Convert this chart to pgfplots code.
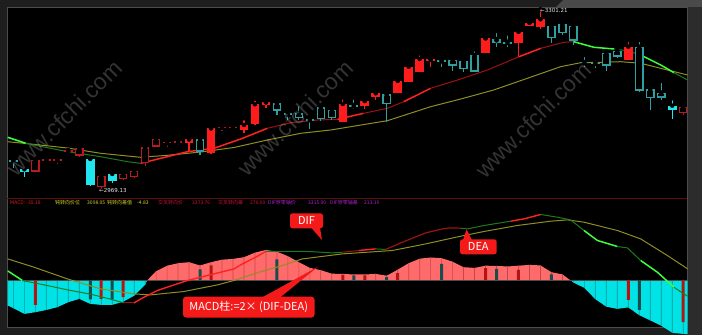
\documentclass[border=0pt]{standalone}
\usepackage{pgfplots}
\pgfplotsset{compat=1.18}
\usepackage{pgfplotstable}
\usepackage{fontspec}
\setmainfont{Liberation Sans}
\newfontfamily\cjk{Noto Sans CJK SC}
\newfontfamily\dvs{DejaVu Sans}

\definecolor{bg}{HTML}{1E1E1E}
\definecolor{bgR}{HTML}{2C2C2C}
\definecolor{bgT}{HTML}{4A4A4A}
\definecolor{frame}{HTML}{4C4C4C}
\definecolor{sep}{HTML}{5E0C0C}
\definecolor{cCyan}{HTML}{00E3E6}
\definecolor{cCyanD}{HTML}{0E9494}
\definecolor{cPink}{HTML}{FF6A6A}
\definecolor{cPinkD}{HTML}{C44848}
\definecolor{cRF}{HTML}{FF1C1C}
\definecolor{cRH}{HTML}{B81A1F}
\definecolor{cCF}{HTML}{1FE5EE}
\definecolor{cTH}{HTML}{2FA0A2}
\definecolor{cBox}{HTML}{F51A1A}
\definecolor{cOlive}{HTML}{8E8E24}
\definecolor{cGB}{HTML}{3CFF3C}
\definecolor{cGD}{HTML}{1E7A1E}
\definecolor{cRB}{HTML}{FF2222}
\definecolor{cRD}{HTML}{9C1212}
\definecolor{cDR}{HTML}{B41414}
\definecolor{cDT}{HTML}{1C4B4E}
\definecolor{tY}{HTML}{D6D62A}
\definecolor{tR}{HTML}{D81C1C}
\definecolor{tP}{HTML}{D0103C}
\definecolor{tM}{HTML}{B020D0}

% candles: i, wick top, wick bottom, body top, body bottom (screen rows; a smaller row is a higher price)
\pgfplotstableread{
i wt wb bt bb
16 139.3 151.7 139.3 142.7
18 128.3 154 128.3 153.3
21 118.3 133.3 125 130
22 99 125 104.3 124
23 102.3 108.3 102.3 105
30 97.3 121.7 104 121.7
32 101 109.3 101 106
33 89.3 100 93.3 97.3
35 80.7 93.3 80.7 93.3
36 62.7 81.7 66.7 81.7
37 53.3 71.7 59 71.7
38 59.3 66.7 59.3 61
43 38.3 53.3 38.3 53.3
46 31.7 56.7 31.7 42.7
47 22.7 26 22.7 26
48 9.3 29.3 19.3 27.3
56 40 60 46.7 60
}\RF
\pgfplotstableread{
i wt wb bt bb
2 160 171.7 160 171.7
3 157.7 163.3 159.3 161
4 157.3 164 159.3 161.3
5 145 153.3 150 152.3
6 146.7 156.7 148.3 155.7
8 175 189.3 176 187.3
10 170 180 174 179
11 168.3 178.3 170.7 177.3
12 146.7 166 147.3 163.3
13 137.3 146.7 139 146.7
14 140 146.7 142 143.3
15 138.7 145 141.3 142.7
19 122.7 130.7 126.7 128.3
20 124 130 126.7 128.3
61 103.3 115 106.7 113.3
}\RH
\pgfplotstableread{
i wt wb bt bb
1 166.7 176.7 169.3 172.3
7 158.3 186 159 185
9 171.7 183.3 174 180.7
60 98.3 119 105.7 110
}\CF
\pgfplotstableread{
i wt wb bt bb
0 157 168 160 162
17 136.7 155 139.3 151.7
24 103.3 115 103.3 110.7
25 112.3 120 113.3 115
26 104.3 120 113.3 118.3
27 118.3 129.3 119 120.7
28 106.7 120.7 107.3 119
29 108.3 120 110 118.3
31 97.7 109.3 105 106.7
34 94.3 121.7 94.3 104.3
39 60 66.7 60 62.3
40 56.7 71 60 65.7
41 58.3 71.7 61 69
42 49.3 71.7 55 71.7
44 31 46.7 39 42.7
45 33.3 46.7 41.7 44.3
49 23.3 43.3 25.7 38.3
50 21.7 35 24.3 33.3
51 23.3 45 26 40.7
52 55 66.7 62 63.3
53 58.3 68.3 62.7 64.3
54 51.7 70.7 52.7 65.7
55 50 58.3 50.7 56.7
57 40 91.7 46.7 90.7
58 85 110 89.3 98.3
59 81 100 92.7 97.7
}\TH

% MACD histogram
\pgfplotstableread{
i v
-0.52 0
-0.52 -25.3
0 -28
1 -33.7
2 -32
3 -29.8
4 -27
5 -22
6 -18.7
7 -23.7
8 -24.7
9 -24.7
10 -21.5
11 -15.5
12 -4.5
12.2 0
}\HcL
\pgfplotstableread{
i v
12.2 0
13 9
14 14.5
15 17
16 18
17 14.7
18 18
19 20.5
20 21.3
21 23
22 27.5
23 30.3
24 28.5
25 24
26 18
27 12.3
28 10
29 6.5
30 6.3
31 5.7
32 5.7
33 6.3
34 4.5
35 10.5
36 17
37 21.5
38 22.7
39 22
40 18.5
41 13
42 12.3
43 14.5
44 14.3
45 13.7
46 14.5
47 15.3
48 14.8
49 8
50 5.8
50.72 0
}\HP
\pgfplotstableread{
i v
50.72 0
51 -2.3
52 -7.7
53 -19
54 -26.5
55 -28.7
56 -27.2
57 -35
58 -40.2
59 -45.5
60 -52.5
61 -53.7
61.41 -54
61.41 0
}\HcR
\pgfplotstableread{
i v
2 -24.7
8 -18.7
10 -17
18 14.7
30 5.3
32 4.7
35 7
43 12
46 10.3
56 -19.7
61 -42
}\BDR
\pgfplotstableread{
i v
7 -19.3
9 -19.3
17 10.7
24 20.7
31 4.7
34 3
39 16.3
44 11.3
49 5.7
57 -29.7
}\BDT

\pgfplotsset{
  panel/.style={scale only axis, width=680pt, xmin=-0.52, xmax=61.41, hide axis, clip=true},
  eb/.style 2 args={only marks, mark=none, forget plot,
    error bars/.cd, y dir=minus, y explicit, error mark=none,
    error bar style={line width=#1, color=#2, line cap=butt}},
}
\newcommand\wicks[2]{\addplot[eb={1.2pt}{#2}] table[x=i, y=wt, y error expr={\thisrow{wb}-\thisrow{wt}}] {#1};}
\newcommand\bodies[2]{\addplot[eb={8.6pt}{#2}] table[x=i, y=bt, y error expr={\thisrow{bb}-\thisrow{bt}}] {#1};}
\newcommand\hollow[1]{\addplot[eb={5.8pt}{black}] table[x=i, y expr={\thisrow{bt}+1.4}, y error expr={max(\thisrow{bb}-\thisrow{bt}-2.8,0)}] {#1};}
\newcommand\tf{\cjk\fontsize{5}{6}\selectfont}

\begin{document}
\begin{tikzpicture}[x=1pt,y=1pt]
\useasboundingbox (0,0) rectangle (702,335);
\fill[bg] (0,0) rectangle (702,335);
\fill[bgR] (687,0) rectangle (702,335);
\fill[bgT] (556,328) -- (563,335) -- (702,335) -- (702,328) -- cycle;
\fill[black] (7,8) rectangle (687,328);
\draw[frame, line width=0.8pt] (7,8) rectangle (687,328);

% ---------- price panel (values are screen rows, shown negated so that up is up) ----------
\begin{axis}[panel, at={(7,137)}, anchor=south west, height=191pt,
  ymin=-198, ymax=-7, y filter/.expression={-y}]
% slow MA
\addplot[cOlive, line width=1pt] coordinates {(-0.52,141.7) (1.12,143.5) (4.92,148) (7.95,153.3) (11.59,157.3) (14.03,155.3) (17.06,152) (20.09,147.5) (23.13,140) (26.17,133.3) (28.90,130) (30.72,126.7) (34.06,120.7) (38.00,106.7) (40.74,99) (43.74,90) (46.81,78.3) (49.84,66.7) (51.66,62.7) (53.48,62.3) (55.31,61.7) (57.13,63.3) (59.56,70) (61.41,75)};
% fast MA
\addplot[cGB, line width=1.6pt] coordinates {(-0.52,137.3) (1.12,143.3)};
\addplot[cGD, line width=1pt] coordinates {(1.12,143.3) (4.95,151.7) (7.95,156.7) (10.41,161.7) (11.59,163.3)};
\addplot[cRB, line width=1.5pt] coordinates {(11.59,163.3) (13.42,158.3) (15.85,151.7) (18.27,148.3) (20.70,139) (23.13,128.3)};
\addplot[cRD, line width=1pt] coordinates {(23.13,128.3) (25.26,122.7) (27.69,120) (29.51,119.3)};
\addplot[cRB, line width=1.5pt] coordinates {(29.51,119.3) (31.90,113.3)};
\addplot[cRD, line width=1pt] coordinates {(31.90,113.3) (34.06,108.3) (35.55,101.7)};
\addplot[cRB, line width=1.5pt] coordinates {(35.55,101.7) (38.00,88.3)};
\addplot[cRD, line width=1pt] coordinates {(38.00,88.3) (40.74,79) (43.17,70) (46.05,56.7)};
\addplot[cRB, line width=1.5pt] coordinates {(46.05,56.7) (48.03,48.3)};
\addplot[cRD, line width=1pt] coordinates {(48.03,48.3) (50.15,42.3) (51.03,41.7)};
\addplot[cGB, line width=1.5pt] coordinates {(51.03,41.7) (52.88,47.3) (54.70,49)};
\addplot[cGD, line width=1pt] coordinates {(54.70,49) (55.92,50.7) (57.13,55)};
\addplot[cGB, line width=1.5pt] coordinates {(57.13,55) (58.96,65) (60.16,72.7)};
\addplot[cGD, line width=1pt] coordinates {(60.16,72.7) (61.41,80)};
% candles
\wicks{\RH}{cRH} \bodies{\RH}{cRH} \hollow{\RH}
\wicks{\TH}{cTH} \bodies{\TH}{cTH} \hollow{\TH}
\wicks{\RF}{cRF} \bodies{\RF}{cRF}
\wicks{\CF}{cCF} \bodies{\CF}{cCF}
\end{axis}

% ---------- MACD panel ----------
\begin{axis}[panel, at={(7,8)}, anchor=south west, height=129pt,
  ymin=-54, ymax=75]
\addplot[fill=cCyan, draw=none, forget plot] table[x=i, y=v] {\HcL} \closedcycle;
\addplot[fill=cPink, draw=none, forget plot] table[x=i, y=v] {\HP} \closedcycle;
\addplot[fill=cCyan, draw=none, forget plot] table[x=i, y=v] {\HcR} \closedcycle;
\addplot[ybar, bar width=0.7pt, bar shift=0pt, fill=cCyanD, draw=none] table[x=i, y=v] {\HcL};
\addplot[ybar, bar width=0.7pt, bar shift=0pt, fill=cPinkD, draw=none] table[x=i, y=v] {\HP};
\addplot[ybar, bar width=0.7pt, bar shift=0pt, fill=cCyanD, draw=none] table[x=i, y=v] {\HcR};
\addplot[gray!60!black, line width=0.6pt] coordinates {(-0.52,0) (61.41,0)};
\addplot[ybar, bar width=3pt, bar shift=0pt, fill=cDR, draw=none] table[x=i, y=v] {\BDR};
\addplot[ybar, bar width=3pt, bar shift=0pt, fill=cDT, draw=none] table[x=i, y=v] {\BDT};
% DEA
\addplot[cOlive, line width=1pt] coordinates {(-0.52,21.3) (1.88,13) (4.92,1.3) (7.95,-8.7) (10.98,-13.7) (12.5,-14.7) (15.54,-11.3) (18.58,-4.7) (20.09,-0.3) (22.37,8) (24.5,14.7) (26.32,21.3) (29.96,26.3) (34.52,29.7) (37.55,36.3) (40.74,44) (42.86,48.7) (45.9,54.7) (48.93,59) (50.46,60.3) (51.97,58) (55.01,49.7) (57.13,41.3) (59.56,24.7) (61.41,11.3)};
% DIF
\addplot[cGB, line width=1.5pt] coordinates {(-0.52,9.3) (0.82,-0.3)};
\addplot[cGD, line width=1pt] coordinates {(0.82,-0.3) (2.94,-5) (4.95,-9.7) (7.04,-14) (8.86,-19) (10.07,-22.7)};
\addplot[cRD, line width=1pt] coordinates {(10.07,-22.7) (10.98,-22.7)};
\addplot[cRB, line width=1.4pt] coordinates {(10.98,-22.7) (11.89,-17) (13.11,-10.3) (14.63,-4.7) (15.85,-0.3) (18.27,6.3) (20.09,11.3) (20.86,16.3) (22.07,23) (22.98,28.7)};
\addplot[cGD, line width=1pt] coordinates {(22.98,28.7) (24.19,28.7) (26.92,28.7) (29.05,27.3) (29.96,28)};
\addplot[cRD, line width=1pt] coordinates {(29.96,28) (31.48,29.7)};
\addplot[cRB, line width=1.4pt] coordinates {(31.48,29.7) (32.99,31.3)};
\addplot[cGD, line width=1pt] coordinates {(32.99,31.3) (33.9,30.7)};
\addplot[cRD, line width=1.2pt] coordinates {(33.9,30.7) (35.43,38) (37.55,47.3) (39.07,51.3) (39.83,52.3) (40.74,52)};
\addplot[cGD, line width=1pt] coordinates {(40.74,52) (41.35,51.3) (42.86,54.7) (45.29,59)};
\addplot[cRB, line width=1.4pt] coordinates {(45.29,59) (46.5,61.3) (48.03,65.7)};
\addplot[cGD, line width=1pt] coordinates {(48.03,65.7) (49.54,63) (50.75,60.3) (51.97,49.7)};
\addplot[cGB, line width=1.5pt] coordinates {(51.97,49.7) (53.19,39.7) (55.01,33.7)};
\addplot[cGD, line width=1pt] coordinates {(55.01,33.7) (55.92,32.3) (57.13,19.7)};
\addplot[cGB, line width=1.5pt] coordinates {(57.13,19.7) (58.65,8) (60.16,-7)};
\addplot[cGD, line width=1pt] coordinates {(60.16,-7) (61.05,-13.7) (61.41,-16)};
\end{axis}

% panel separator
\draw[sep, line width=0.8pt] (7,137) -- (687,137);

% extreme labels
\node[anchor=west, inner sep=0, text=white!80!gray, font=\dvs\fontsize{5.5}{6}\selectfont] at (99,144.3) {←2969.13};
\node[anchor=west, inner sep=0, text=white!80!gray, font=\dvs\fontsize{5.5}{6}\selectfont] at (540,324) {←3301.21};

% indicator line
\node[anchor=west, inner sep=0, text=tR] at (10,132) {\tf MACD: -35.18};
\node[anchor=west, inner sep=0, text=tY] at (55,132) {\tf 钝转向价位};
\node[anchor=west, inner sep=0, text=tY] at (87,132) {\tf 3098.05};
\node[anchor=west, inner sep=0, text=tY] at (107,132) {\tf 钝转向差值};
\node[anchor=west, inner sep=0, text=tY] at (137,132) {\tf -4.83};
\node[anchor=west, inner sep=0, text=tP] at (158,132) {\tf 交叉转向价};
\node[anchor=west, inner sep=0, text=tP] at (192,132) {\tf 3373.76};
\node[anchor=west, inner sep=0, text=tP] at (218,132) {\tf 交叉转向差};
\node[anchor=west, inner sep=0, text=tP] at (250,132) {\tf 276.90};
\node[anchor=west, inner sep=0, text=tM] at (268,132) {\tf DIF穿零轴价};
\node[anchor=west, inner sep=0, text=tM] at (308,132) {\tf 3315.90};
\node[anchor=west, inner sep=0, text=tM] at (330,132) {\tf DIF穿零轴差};
\node[anchor=west, inner sep=0, text=tM] at (364,132) {\tf 213.10};

% watermarks
\foreach \cx/\cy in {64/217, 295/217, 533/215}
  \node[rotate=45, text=white, opacity=0.2, font=\fontsize{23}{24}\selectfont] at (\cx,\cy) {www.cfchi.com};

% callouts
\fill[cBox] (311,107.5) -- (320,107.5) -- (322,95) -- cycle;
\fill[cBox, rounded corners=2.5pt] (290,106.7) rectangle (323,121.7);
\node[text=white, inner sep=0, font=\cjk\fontsize{11}{12}\selectfont] at (306.5,114.2) {DIF};
\fill[cBox] (463,95) -- (472,95) -- (466.5,105.7) -- cycle;
\fill[cBox, rounded corners=2.5pt] (460,80.7) rectangle (496.7,95.7);
\node[text=white, inner sep=0, font=\cjk\fontsize{11}{12}\selectfont] at (478.3,88.2) {DEA};
\fill[cBox] (262,37.5) -- (280,37.5) -- (318,68.3) -- cycle;
\fill[cBox, rounded corners=3pt] (183,17.5) rectangle (314.5,38.3);
\node[text=white, inner sep=0, font=\cjk\fontsize{11}{12}\selectfont] at (248.7,27.9) {MACD柱:=2× (DIF-DEA)};
\end{tikzpicture}
\end{document}
